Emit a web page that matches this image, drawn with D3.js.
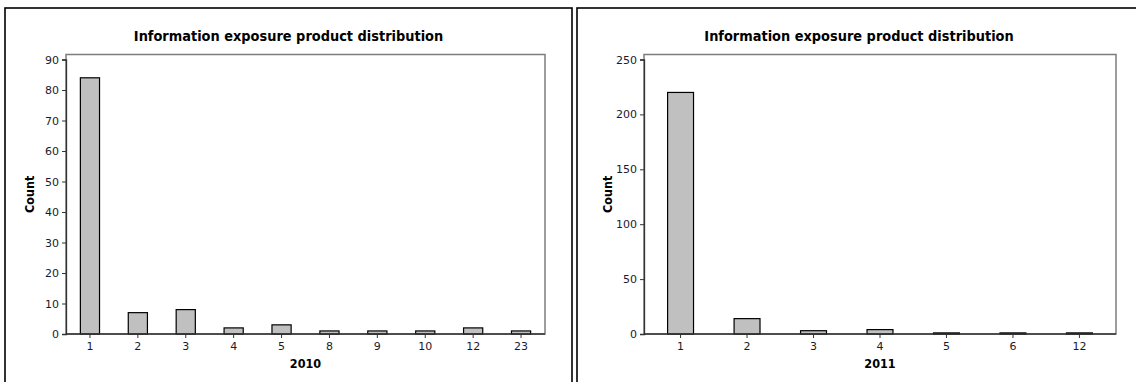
<!DOCTYPE html>
<html>
<head>
<meta charset="utf-8">
<script src="https://cdn.jsdelivr.net/npm/d3@7"></script>
<style>
  html, body { margin: 0; padding: 0; background: #fff; }
  svg { display: block; }
  .tick text { font-family: "DejaVu Sans", Verdana, sans-serif; font-size: 11px; fill: #1a1a2e; }
</style>
</head>
<body>
<svg id="chart" width="1136" height="382"></svg>
<script>
// Counts of products per exposure level, one histogram per year
const title = "Information exposure product distribution";

const categories2010 = ["1", "2", "3", "4", "5", "8", "9", "10", "12", "23"];
const counts2010 = [84, 7, 8, 2, 3, 1, 1, 1, 2, 1];
const yTicks2010 = [0, 10, 20, 30, 40, 50, 60, 70, 80, 90];

const categories2011 = ["1", "2", "3", "4", "5", "6", "12"];
const counts2011 = [220, 14, 3, 4, 1, 1, 1];
const yTicks2011 = [0, 50, 100, 150, 200, 250];

const svg = d3.select("#chart");
const boldFont = "'DejaVu Sans Condensed', 'DejaVu Sans', sans-serif";

function drawPanel(opts) {
  const { panel, plot, cats, vals, ticks, yMax, xLabel, padInner, padOuter } = opts;
  const g = svg.append("g");

  // panel border
  g.append("rect")
    .attr("x", panel.x).attr("y", panel.y)
    .attr("width", panel.w).attr("height", panel.h)
    .attr("fill", "none").attr("stroke", "#000").attr("stroke-width", 1.6);

  // title, centred on the panel
  g.append("text")
    .attr("x", panel.x + panel.w / 2).attr("y", 40.5)
    .attr("text-anchor", "middle")
    .style("font-family", boldFont)
    .style("font-weight", "bold").style("font-size", "14.4px")
    .attr("fill", "#000")
    .text(title);

  const x = d3.scaleBand().domain(cats)
    .range([plot.x0, plot.x1])
    .paddingInner(padInner).paddingOuter(padOuter);
  const y = d3.scaleLinear().domain([0, yMax]).range([plot.y1, plot.y0 + 5]);

  // plot frame
  g.append("rect")
    .attr("x", plot.x0).attr("y", plot.y0)
    .attr("width", plot.x1 - plot.x0).attr("height", plot.y1 - plot.y0)
    .attr("fill", "none").attr("stroke", "#7d7d7d").attr("stroke-width", 1.5);

  // bars
  g.selectAll("rect.bar").data(vals).join("rect")
    .attr("class", "bar")
    .attr("x", (d, i) => x(cats[i]))
    .attr("width", x.bandwidth())
    .attr("y", d => y(d))
    .attr("height", d => y(0) - y(d))
    .attr("fill", "#c0c0c0").attr("stroke", "#000").attr("stroke-width", 1.2);

  // y axis
  const yAxis = d3.axisLeft(y).tickValues(ticks).tickSize(4).tickPadding(3);
  const ya = g.append("g").attr("transform", `translate(${plot.x0},0)`).call(yAxis);
  ya.select(".domain").attr("stroke", "#333").attr("stroke-width", 1.3);
  ya.selectAll(".tick line").attr("stroke", "#333");

  // x axis
  const xAxis = d3.axisBottom(x).tickSize(4).tickPadding(4);
  const xa = g.append("g").attr("transform", `translate(0,${plot.y1})`).call(xAxis);
  xa.select(".domain").attr("stroke", "#333").attr("stroke-width", 1.3)
    .attr("d", `M${plot.x0},0H${plot.x1}`);
  xa.selectAll(".tick line").attr("stroke", "#333");

  // axis titles
  g.append("text")
    .attr("x", (plot.x0 + plot.x1) / 2).attr("y", 367.5)
    .attr("text-anchor", "middle")
    .style("font-family", boldFont)
    .style("font-weight", "bold").style("font-size", "12.5px")
    .text(xLabel);

  g.append("text")
    .attr("transform", `translate(${plot.x0 - 32},${(plot.y0 + plot.y1) / 2}) rotate(-90)`)
    .attr("text-anchor", "middle")
    .style("font-family", boldFont)
    .style("font-weight", "bold").style("font-size", "12.5px")
    .text("Count");
}

drawPanel({
  panel: { x: 5, y: 8, w: 567, h: 400 },
  plot: { x0: 66, x1: 545, y0: 54.5, y1: 334 },
  cats: categories2010, vals: counts2010, ticks: yTicks2010, yMax: 90,
  xLabel: "2010", padInner: 0.6, padOuter: 0.3
});

drawPanel({
  panel: { x: 577, y: 8, w: 564, h: 400 },
  plot: { x0: 644, x1: 1116, y0: 54.5, y1: 334 },
  cats: categories2011, vals: counts2011, ticks: yTicks2011, yMax: 250,
  xLabel: "2011", padInner: 0.61, padOuter: 0.355
});
</script>
</body>
</html>
